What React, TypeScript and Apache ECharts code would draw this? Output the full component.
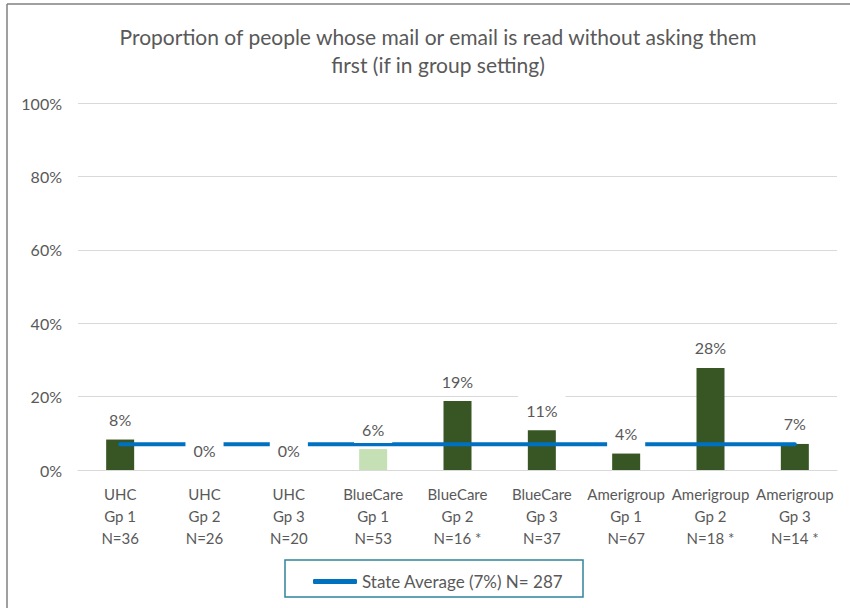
import React, { useEffect, useRef } from "react";
import * as echarts from "echarts";

const categories = [
  "UHC\nGp 1\nN=36",
  "UHC\nGp 2\nN=26",
  "UHC\nGp 3\nN=20",
  "BlueCare\nGp 1\nN=53",
  "BlueCare\nGp 2\nN=16 *",
  "BlueCare\nGp 3\nN=37",
  "Amerigroup\nGp 1\nN=67",
  "Amerigroup\nGp 2\nN=18 *",
  "Amerigroup\nGp 3\nN=14 *",
];
const values = [8.3, 0, 0, 5.7, 18.8, 10.8, 4.48, 27.8, 7.1];
const stateAverage = [7, 7, 7, 7, 7, 7, 7, 7, 7];
const stateName = "State Average (7%) N= 287";
const highlightIndex = 3;
const yTicks = [0, 20, 40, 60, 80, 100];

const FONT = "Lato";
const GREY = "#595959";

export default function App() {
  const ref = useRef<HTMLDivElement>(null);
  useEffect(() => {
    if (!ref.current) return;
    const chart = echarts.init(ref.current, null, { renderer: "svg" });
    chart.setOption({
      animation: false,
      backgroundColor: "#ffffff",
      textStyle: { fontFamily: FONT },
      title: {
        text: "Proportion of people whose mail or email is read without asking them\nfirst (if in group setting)",
        left: 433,
        top: 17,
        textAlign: "center",
        textStyle: {
          fontFamily: FONT,
          fontSize: 21,
          fontWeight: "normal",
          color: GREY,
          lineHeight: 28,
        },
      },
      grid: { left: 78, right: 13, top: 103, bottom: 138, containLabel: false },
      xAxis: {
        type: "category",
        data: categories,
        axisLine: { show: true, lineStyle: { color: "#d9d9d9", width: 1 } },
        axisTick: { show: false },
        axisLabel: {
          interval: 0,
          margin: 13,
          color: GREY,
          fontFamily: FONT,
          fontSize: 15,
          lineHeight: 22,
        },
      },
      yAxis: {
        type: "value",
        min: yTicks[0],
        max: yTicks[yTicks.length - 1],
        interval: 20,
        axisLine: { show: false },
        axisTick: { show: false },
        splitLine: { lineStyle: { color: "#d9d9d9", width: 1 } },
        axisLabel: {
          margin: 16,
          color: GREY,
          fontFamily: FONT,
          fontSize: 16,
          formatter: (v: number) => `${v}%`,
        },
      },
      legend: {
        data: [stateName],
        left: 308,
        top: 568,
        icon: "roundRect",
        itemWidth: 44,
        itemHeight: 5,
        textStyle: { color: GREY, fontFamily: FONT, fontSize: 17 },
        selectedMode: false,
      },
      graphic: [
        {
          type: "rect",
          shape: { x: 285, y: 560, width: 298, height: 37 },
          style: { fill: "none", stroke: "#31849b", lineWidth: 1.5 },
          silent: true,
        },
        {
          type: "line",
          shape: { x1: 7, y1: 4, x2: 850, y2: 4 },
          style: { stroke: "#808080", lineWidth: 1.5 },
          silent: true,
        },
        {
          type: "line",
          shape: { x1: 7, y1: 4, x2: 7, y2: 608 },
          style: { stroke: "#808080", lineWidth: 1.5 },
          silent: true,
        },
      ],
      series: [
        {
          name: "Proportion",
          type: "bar",
          barWidth: 28,
          z: 2,
          silent: true,
          data: values.map((v, i) => ({
            value: v,
            itemStyle: { color: i === highlightIndex ? "#c5e0b4" : "#375623" },
          })),
        },
        {
          name: stateName,
          type: "line",
          data: stateAverage,
          symbol: "none",
          z: 3,
          silent: true,
          color: "#0070c0",
          lineStyle: { color: "#0070c0", width: 4, cap: "round" },
        },
        {
          name: "Labels",
          type: "bar",
          barWidth: 28,
          barGap: "-100%",
          z: 4,
          silent: true,
          itemStyle: { color: "rgba(0,0,0,0)" },
          data: values,
          label: {
            show: true,
            position: "top",
            distance: 6,
            color: GREY,
            fontFamily: FONT,
            fontSize: 16,
            lineHeight: 16,
            backgroundColor: "#ffffff",
            padding: [8, 8, 6, 8],
            formatter: (p: any) => `${Math.round(p.value)}%`,
          },
        },
      ],
    });
    return () => chart.dispose();
  }, []);
  return (
    <div
      ref={ref}
      style={{ position: "fixed", left: 0, top: 0, width: 850, height: 608 }}
    />
  );
}
